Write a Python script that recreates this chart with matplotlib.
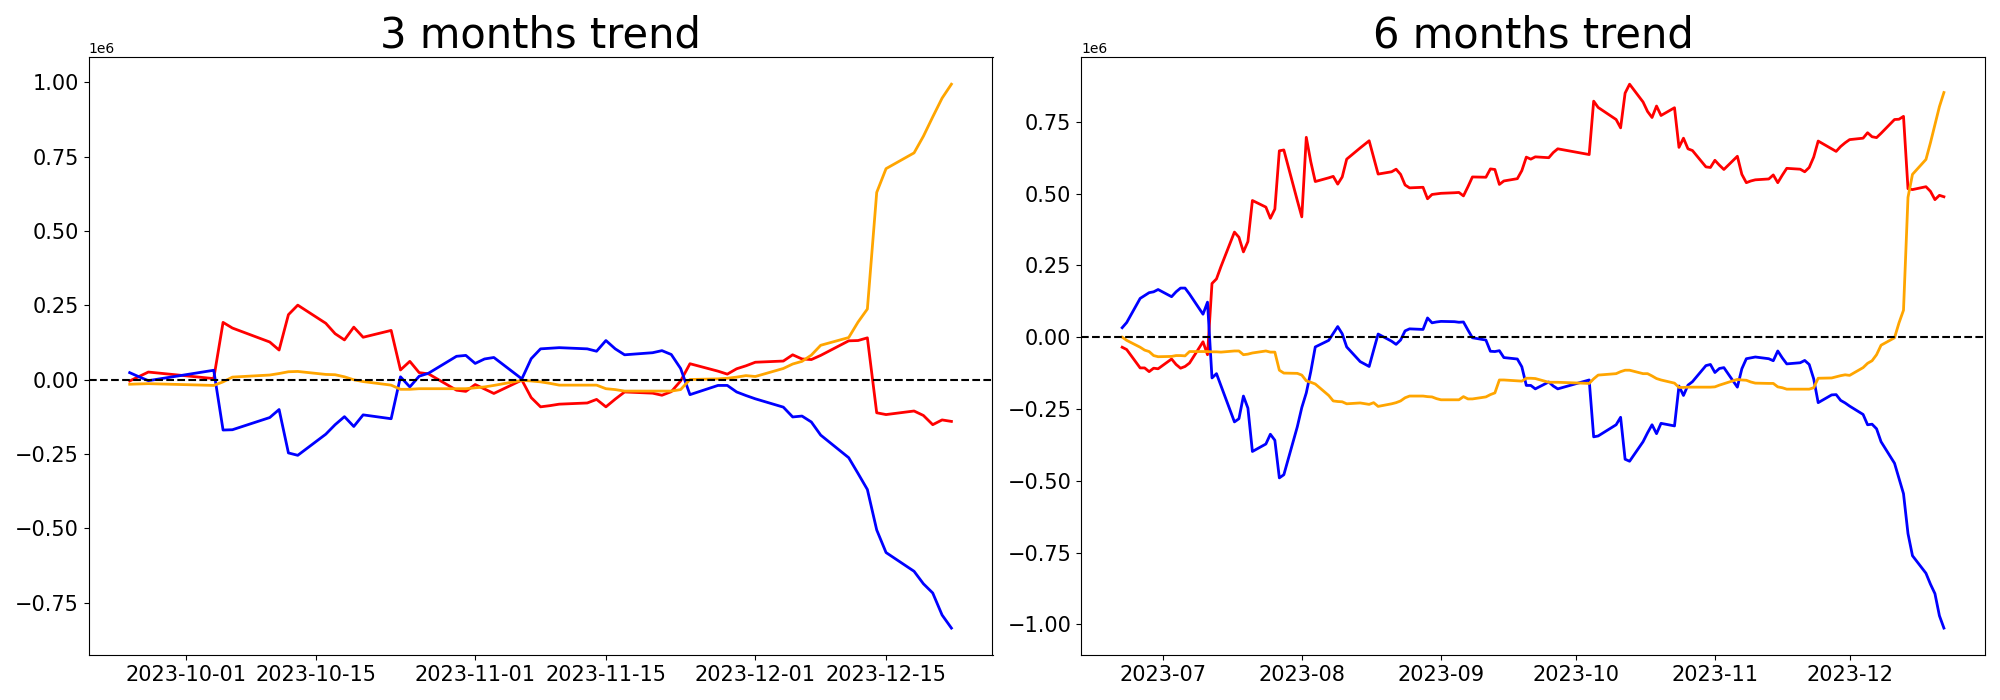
import matplotlib
matplotlib.use("Agg")
import matplotlib.pyplot as plt
import numpy as np
import pandas as pd

# ---------------- 3 months window (values in millions) ----------------
dates_3m = [
    "2023-09-25", "2023-09-26", "2023-09-27",
    "2023-10-04", "2023-10-05", "2023-10-06", "2023-10-10", "2023-10-11", "2023-10-12", "2023-10-13",
    "2023-10-16", "2023-10-17", "2023-10-18", "2023-10-19", "2023-10-20",
    "2023-10-23", "2023-10-24", "2023-10-25", "2023-10-26", "2023-10-27", "2023-10-30", "2023-10-31",
    "2023-11-01", "2023-11-02", "2023-11-03", "2023-11-06", "2023-11-07", "2023-11-08", "2023-11-09", "2023-11-10",
    "2023-11-13", "2023-11-14", "2023-11-15", "2023-11-16", "2023-11-17",
    "2023-11-20", "2023-11-21", "2023-11-22", "2023-11-23", "2023-11-24",
    "2023-11-27", "2023-11-28", "2023-11-29", "2023-11-30",
    "2023-12-01", "2023-12-04", "2023-12-05", "2023-12-06", "2023-12-07", "2023-12-08",
    "2023-12-11", "2023-12-12", "2023-12-13", "2023-12-14", "2023-12-15",
    "2023-12-18", "2023-12-19", "2023-12-20", "2023-12-21", "2023-12-22",
]
red_3m = [
    -0.004, 0.011, 0.026, 0.004, 0.193, 0.174, 0.127, 0.100, 0.219, 0.251,
    0.190, 0.155, 0.134, 0.177, 0.143, 0.166, 0.033, 0.062, 0.024, 0.020,
    -0.035, -0.039, -0.016, -0.031, -0.046, -0.001, -0.060, -0.091, -0.087, -0.082,
    -0.078, -0.066, -0.091, -0.065, -0.041, -0.045, -0.052, -0.040, -0.004, 0.054,
    0.029, 0.019, 0.037, 0.047, 0.059, 0.063, 0.084, 0.070, 0.068, 0.082,
    0.131, 0.132, 0.141, -0.111, -0.117, -0.105, -0.120, -0.151, -0.135, -0.140,
]
blue_3m = [
    0.024, 0.010, -0.003, 0.032, -0.169, -0.168, -0.127, -0.100, -0.246, -0.254,
    -0.183, -0.151, -0.124, -0.157, -0.118, -0.131, 0.010, -0.024, 0.012, 0.022,
    0.079, 0.082, 0.055, 0.070, 0.075, 0.003, 0.071, 0.104, 0.106, 0.108,
    0.104, 0.096, 0.132, 0.104, 0.084, 0.091, 0.098, 0.085, 0.038, -0.050,
    -0.019, -0.019, -0.041, -0.053, -0.064, -0.092, -0.125, -0.122, -0.142, -0.186,
    -0.262, -0.315, -0.369, -0.505, -0.581, -0.644, -0.686, -0.717, -0.791, -0.835,
]
orange_3m = [
    -0.015, -0.014, -0.013, -0.019, -0.007, 0.009, 0.016, 0.021, 0.027, 0.028,
    0.018, 0.017, 0.010, 0.000, -0.006, -0.018, -0.032, -0.032, -0.030, -0.030,
    -0.030, -0.030, -0.027, -0.024, -0.019, -0.002, -0.004, -0.007, -0.012, -0.018,
    -0.018, -0.018, -0.030, -0.033, -0.038, -0.038, -0.038, -0.038, -0.033, 0.001,
    0.003, 0.005, 0.009, 0.014, 0.011, 0.038, 0.053, 0.062, 0.083, 0.116,
    0.142, 0.194, 0.238, 0.630, 0.710, 0.763, 0.819, 0.884, 0.947, 0.994,
]

# ---------------- 6 months window (values in millions) ----------------
dates_6m = [
    "2023-06-22", "2023-06-23", "2023-06-26", "2023-06-27", "2023-06-28", "2023-06-29", "2023-06-30",
    "2023-07-03", "2023-07-04", "2023-07-05", "2023-07-06", "2023-07-07",
    "2023-07-10", "2023-07-11", "2023-07-12", "2023-07-13", "2023-07-14",
    "2023-07-17", "2023-07-18", "2023-07-19", "2023-07-20", "2023-07-21",
    "2023-07-24", "2023-07-25", "2023-07-26", "2023-07-27", "2023-07-28", "2023-07-31",
    "2023-08-01", "2023-08-02", "2023-08-03", "2023-08-04",
    "2023-08-07", "2023-08-08", "2023-08-09", "2023-08-10", "2023-08-11",
    "2023-08-14", "2023-08-16", "2023-08-17", "2023-08-18",
    "2023-08-21", "2023-08-22", "2023-08-23", "2023-08-24", "2023-08-25",
    "2023-08-28", "2023-08-29", "2023-08-30", "2023-08-31",
    "2023-09-01", "2023-09-04", "2023-09-05", "2023-09-06", "2023-09-07", "2023-09-08",
    "2023-09-11", "2023-09-12", "2023-09-13", "2023-09-14", "2023-09-15",
    "2023-09-18", "2023-09-19", "2023-09-20", "2023-09-21", "2023-09-22",
    "2023-09-25", "2023-09-26", "2023-09-27",
] + dates_3m[3:]
red_6m = [
    -0.035, -0.043, -0.107, -0.107, -0.120, -0.108, -0.110,
    -0.076, -0.095, -0.108, -0.102, -0.090, -0.016, -0.061, 0.187, 0.203, 0.246,
    0.366, 0.348, 0.297, 0.333, 0.476, 0.453, 0.414, 0.446, 0.649, 0.652, 0.476,
    0.419, 0.696, 0.611, 0.542, 0.555, 0.560, 0.533, 0.558, 0.620, 0.659, 0.684,
    0.626, 0.568, 0.576, 0.585, 0.567, 0.530, 0.520, 0.522, 0.482, 0.497, 0.499,
    0.501, 0.503, 0.504, 0.492, 0.524, 0.558, 0.557, 0.586, 0.584, 0.532, 0.544,
    0.552, 0.580, 0.627, 0.620, 0.628, 0.625, 0.643, 0.656,
    0.636, 0.822, 0.800, 0.758, 0.729, 0.850, 0.881, 0.819, 0.786, 0.765,
    0.805, 0.772, 0.799, 0.661, 0.693, 0.656, 0.650, 0.593, 0.591,
    0.616, 0.599, 0.584, 0.630, 0.567, 0.538, 0.544, 0.548, 0.551, 0.565,
    0.538, 0.564, 0.588, 0.585, 0.576, 0.591, 0.627, 0.683, 0.656, 0.647, 0.664, 0.677,
    0.688, 0.693, 0.712, 0.698, 0.695, 0.710, 0.758, 0.759, 0.769, 0.517,
    0.514, 0.524, 0.508, 0.479, 0.494, 0.489,
]
blue_6m = [
    0.033, 0.051, 0.135, 0.145, 0.155, 0.158, 0.166,
    0.141, 0.158, 0.171, 0.171, 0.150, 0.080, 0.122, -0.142, -0.127, -0.169,
    -0.295, -0.284, -0.205, -0.247, -0.398, -0.372, -0.338, -0.359, -0.490, -0.479, -0.312,
    -0.245, -0.194, -0.120, -0.034, -0.011, 0.013, 0.037, 0.012, -0.034, -0.085, -0.102,
    -0.045, 0.011, -0.014, -0.025, -0.010, 0.022, 0.029, 0.027, 0.067, 0.050, 0.053,
    0.055, 0.054, 0.052, 0.053, 0.025, -0.002, -0.010, -0.049, -0.050, -0.047, -0.071,
    -0.076, -0.103, -0.168, -0.168, -0.180, -0.156, -0.170, -0.180,
    -0.149, -0.347, -0.344, -0.305, -0.279, -0.425, -0.432, -0.364, -0.333, -0.305,
    -0.336, -0.300, -0.309, -0.170, -0.203, -0.167, -0.155, -0.099, -0.095,
    -0.123, -0.109, -0.106, -0.174, -0.110, -0.075, -0.072, -0.069, -0.075, -0.082,
    -0.048, -0.072, -0.093, -0.089, -0.081, -0.095, -0.145, -0.228, -0.201, -0.200, -0.220, -0.229,
    -0.240, -0.269, -0.305, -0.303, -0.319, -0.364, -0.439, -0.492, -0.545, -0.684,
    -0.761, -0.822, -0.860, -0.893, -0.970, -1.013,
]
orange_6m = [
    0.000, -0.011, -0.035, -0.045, -0.050, -0.064, -0.068,
    -0.067, -0.064, -0.064, -0.065, -0.050, -0.050, -0.050, -0.051, -0.051, -0.052,
    -0.048, -0.048, -0.061, -0.059, -0.055, -0.048, -0.052, -0.052, -0.115, -0.125, -0.126,
    -0.132, -0.152, -0.157, -0.163, -0.203, -0.222, -0.224, -0.225, -0.232, -0.229, -0.234,
    -0.228, -0.241, -0.232, -0.228, -0.222, -0.211, -0.205, -0.205, -0.207, -0.208, -0.214,
    -0.218, -0.218, -0.218, -0.207, -0.215, -0.215, -0.208, -0.200, -0.194, -0.149, -0.149,
    -0.152, -0.153, -0.143, -0.143, -0.144, -0.157, -0.157, -0.157,
    -0.161, -0.145, -0.132, -0.127, -0.120, -0.115, -0.115, -0.127, -0.127, -0.135,
    -0.144, -0.149, -0.160, -0.175, -0.175, -0.174, -0.174, -0.174, -0.174,
    -0.173, -0.167, -0.162, -0.147, -0.149, -0.150, -0.156, -0.160, -0.161, -0.161,
    -0.173, -0.176, -0.181, -0.181, -0.181, -0.181, -0.176, -0.143, -0.142, -0.138, -0.134, -0.131,
    -0.133, -0.106, -0.091, -0.082, -0.061, -0.028, -0.002, 0.050, 0.094, 0.487,
    0.567, 0.619, 0.677, 0.740, 0.803, 0.852,
]

titles = ["3 months trend", "6 months trend"]
panels = [
    (dates_3m, red_3m, blue_3m, orange_3m),
    (dates_6m, red_6m, blue_6m, orange_6m),
]

fig, axes = plt.subplots(1, 2, figsize=(20, 7), dpi=100)
for ax, title, (d, r, b, o) in zip(axes, titles, panels):
    x = pd.to_datetime(d)
    ax.plot(x, np.array(r) * 1e6, color="red", lw=2)
    ax.plot(x, np.array(b) * 1e6, color="blue", lw=2)
    ax.plot(x, np.array(o) * 1e6, color="orange", lw=2)
    ax.axhline(0, color="black", ls="--", lw=1.5)
    ax.set_title(title, fontsize=30)
    ax.tick_params(labelsize=15)

plt.tight_layout()
fig.savefig("out.png", dpi=100)
